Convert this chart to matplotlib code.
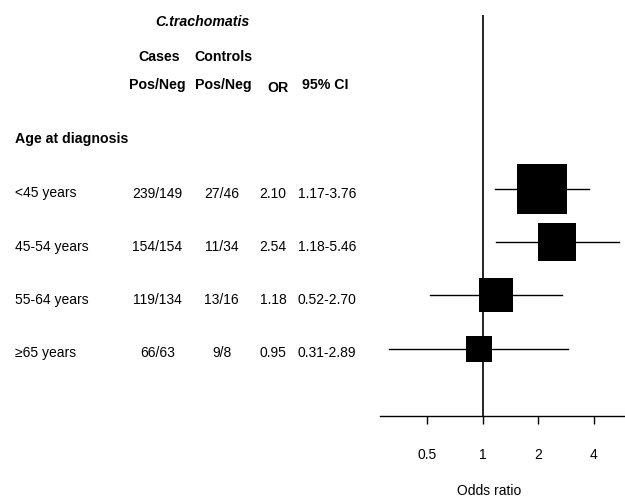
import numpy as np
import matplotlib
matplotlib.use("Agg")
import matplotlib.pyplot as plt
from matplotlib.transforms import blended_transform_factory

plt.rcParams["font.family"] = ["Liberation Sans", "DejaVu Sans"]

# Data
age_groups = ["<45 years", "45-54 years", "55-64 years", "\u226565 years"]
cases_pos_neg = ["239/149", "154/154", "119/134", "66/63"]
controls_pos_neg = ["27/46", "11/34", "13/16", "9/8"]
odds_ratio = [2.10, 2.54, 1.18, 0.95]
ci_low = [1.17, 1.18, 0.52, 0.31]
ci_high = [3.76, 5.46, 2.70, 2.89]
tick_values = [0.5, 1, 2, 4]
tick_labels = ["0.5", "1", "2", "4"]

W, H = 625, 498
fig = plt.figure(figsize=(W / 100, H / 100), dpi=100)

def fx(px):
    return px / W

def fy(py):
    return 1 - py / H

# forest panel
ax = fig.add_axes([fx(380), fy(416), fx(625) - fx(380), (416 - 15) / H])
ax.set_xscale("log", base=2)
px_per_doubling = 55.5
x_left = 2 ** ((380 - 482.7) / px_per_doubling)
x_right = 2 ** ((625 - 482.7) / px_per_doubling)
ax.set_xlim(x_left, x_right)
row_gap = 53.2
ax.set_ylim((416 - 189) / row_gap, (15 - 189) / row_gap)

for s in ["top", "right", "left"]:
    ax.spines[s].set_visible(False)
ax.spines["bottom"].set_linewidth(1.0)
ax.set_yticks([])
ax.set_xticks(tick_values)
ax.set_xticklabels(tick_labels, fontsize=10)
ax.xaxis.set_minor_locator(matplotlib.ticker.NullLocator())
ax.tick_params(axis="x", direction="out", length=6, width=1, pad=17)

ax.axvline(1, color="black", lw=1.2)

# box sides scale with sqrt of inverse-variance weight
log_se = (np.log(ci_high) - np.log(ci_low)) / 3.92
weights = 1 / log_se ** 2
box_pt = 14.6 * np.sqrt(weights) * 0.72

for i in range(len(age_groups)):
    ax.plot([ci_low[i], ci_high[i]], [i, i], color="black", lw=1.0)
    ax.plot(odds_ratio[i], i, marker="s", ms=box_pt[i], mew=0,
            color="black", linestyle="none")

# table text
fs = 10
fb = 10.2
fig.text(fx(202), fy(22), "C.trachomatis", ha="center", va="center",
         fontsize=fb, fontweight="bold", style="italic")
fig.text(fx(158.8), fy(57), "Cases", ha="center", va="center",
         fontsize=fb, fontweight="bold")
fig.text(fx(223.3), fy(57), "Controls", ha="center", va="center",
         fontsize=fb, fontweight="bold")
fig.text(fx(157.2), fy(85), "Pos/Neg", ha="center", va="center",
         fontsize=fb, fontweight="bold")
fig.text(fx(223.2), fy(85), "Pos/Neg", ha="center", va="center",
         fontsize=fb, fontweight="bold")
fig.text(fx(277.8), fy(88), "OR", ha="center", va="center",
         fontsize=fb, fontweight="bold")
fig.text(fx(325), fy(85), "95% CI", ha="center", va="center",
         fontsize=fb, fontweight="bold")
fig.text(fx(15), fy(138.5), "Age at diagnosis", ha="left", va="center",
         fontsize=fb, fontweight="bold")

tr = blended_transform_factory(fig.transFigure, ax.transData)
for i in range(len(age_groups)):
    y = i + 4.5 / row_gap
    ax.text(fx(15), y, age_groups[i], transform=tr, ha="left", va="center", fontsize=fs)
    ax.text(fx(157.2), y, cases_pos_neg[i], transform=tr, ha="center", va="center", fontsize=fs)
    ax.text(fx(221.7), y, controls_pos_neg[i], transform=tr, ha="center", va="center", fontsize=fs)
    ax.text(fx(286.5), y, f"{odds_ratio[i]:.2f}", transform=tr, ha="right", va="center", fontsize=fs)
    ax.text(fx(298), y, f"{ci_low[i]:.2f}-{ci_high[i]:.2f}", transform=tr,
            ha="left", va="center", fontsize=fs)

fig.text(fx(489.5), fy(491), "Odds ratio", ha="center", va="center", fontsize=fs)

fig.savefig("out.png", dpi=100)
